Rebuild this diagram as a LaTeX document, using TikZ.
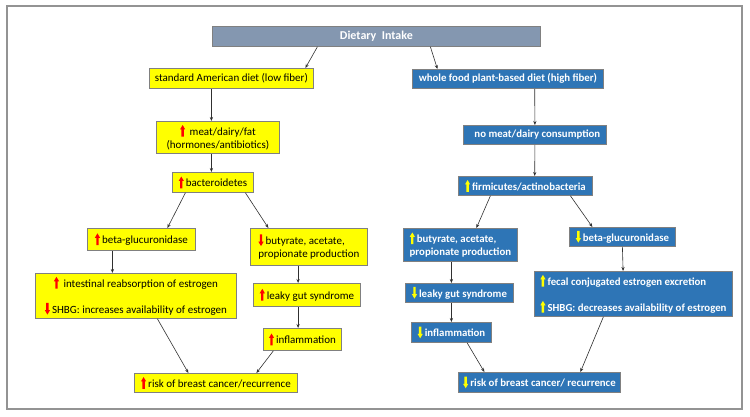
\documentclass[tikz,border=0pt]{standalone}
\usepackage{fontspec}
\setmainfont{Carlito}
\usetikzlibrary{arrows.meta}
\definecolor{yfill}{HTML}{FFFF00}
\definecolor{bfill}{HTML}{2E75B6}
\definecolor{dfill}{HTML}{8497B0}
\definecolor{bordr}{HTML}{808080}
\definecolor{linec}{HTML}{303030}
\definecolor{redar}{HTML}{FF0000}
\definecolor{yelar}{HTML}{FFFF00}
\newcommand{\arrU}[1]{\tikz[baseline=0pt,x=1pt,y=1pt]\fill[#1] (-1.2,-1.5) -- (-1.2,5.8) -- (-2.6,5.8) -- (0,10.2) -- (2.6,5.8) -- (1.2,5.8) -- (1.2,-1.5) -- cycle;\hspace{2pt}}
\newcommand{\arrD}[1]{\tikz[baseline=0pt,x=1pt,y=1pt]\fill[#1] (-1.2,10.2) -- (-1.2,2.9) -- (-2.6,2.9) -- (0,-1.5) -- (2.6,2.9) -- (1.2,2.9) -- (1.2,10.2) -- cycle;\hspace{2pt}}
\begin{document}
\begin{tikzpicture}[x=1pt,y=-1pt,
  every node/.style={font=\fontsize{11}{13}\selectfont, inner sep=0pt, anchor=north west},
  ybox/.style={draw=bordr, line width=0.8pt, fill=yfill, text=black, align=center},
  bbox/.style={draw=bordr, line width=0.8pt, fill=bfill, text=white, align=center, font=\fontsize{10.8}{13}\selectfont\bfseries},
  dbox/.style={draw=bordr, line width=0.8pt, fill=dfill, text=white, align=center, font=\fontsize{12}{13}\selectfont\bfseries},
  conn/.style={draw=linec, line width=0.6pt, -{Stealth[length=4pt,width=3.2pt]}}
]
\useasboundingbox (0,0) rectangle (750,417);
\draw[draw=gray!85, line width=1.5pt] (7,6) rectangle (742,409);

% top
\node[dbox, minimum width=328pt, minimum height=20pt] (diet) at (212,26) {Dietary\ \ Intake};

% left column
\node[ybox, minimum width=164pt, minimum height=20pt] (lsad) at (149,68) {standard American diet (low fiber)};
\node[ybox, minimum width=123pt, minimum height=32pt] (lmeat) at (156,121) {\arrU{redar} meat/dairy/fat\\(hormones/antibiotics)};
\node[ybox, minimum width=81pt, minimum height=20pt] (lbact) at (172,172) {\arrU{redar}bacteroidetes};
\node[ybox, minimum width=108pt, minimum height=22pt] (lbeta) at (87,228) {\arrU{redar}beta-glucuronidase};
\node[ybox, minimum width=201pt, minimum height=45pt] (lint) at (35,273) {\arrU{redar} intestinal reabsorption of estrogen\\[13pt]\arrD{redar}SHBG: increases availability of estrogen};
\node[ybox, minimum width=117pt, minimum height=37pt, align=left] (lbut) at (250,228) {\arrD{redar}butyrate, acetate,\\propionate production};
\node[ybox, minimum width=107pt, minimum height=23pt] (lleak) at (253,283) {\arrU{redar}leaky gut syndrome};
\node[ybox, minimum width=78pt, minimum height=22pt] (linf) at (263,328) {\arrU{redar}inflammation};
\node[ybox, minimum width=163pt, minimum height=19pt] (lrisk) at (134,373) {\arrU{redar}risk of breast cancer/recurrence};

% right column
\node[bbox, minimum width=191pt, minimum height=19pt] (rwf) at (412,69) {whole food plant-based diet (high fiber)};
\node[bbox, minimum width=143pt, minimum height=19pt] (rnomeat) at (463,125) {\ \ no meat/dairy consumption};
\node[bbox, minimum width=134pt, minimum height=19pt] (rfirm) at (458,176) {\arrU{yelar}firmicutes/actinobacteria};
\node[bbox, minimum width=114pt, minimum height=33pt, align=left] (rbut) at (403,228) {\arrU{yelar}butyrate, acetate,\\propionate production};
\node[bbox, minimum width=106pt, minimum height=19pt] (rbeta) at (569,227) {\arrD{yelar}beta-glucuronidase};
\node[bbox, minimum width=198pt, minimum height=45pt, align=left] (rfec) at (534,271) {\arrU{yelar}fecal conjugated estrogen excretion\\[13pt]\arrU{yelar}SHBG: decreases availability of estrogen};
\node[bbox, minimum width=108pt, minimum height=19pt] (rleak) at (405,283) {\arrD{yelar}leaky gut syndrome};
\node[bbox, minimum width=80pt, minimum height=20pt] (rinf) at (411,322) {\arrD{yelar}inflammation};
\node[bbox, minimum width=162pt, minimum height=20pt] (rrisk) at (458,372) {\arrD{yelar}risk of breast cancer/ recurrence};

% connectors left
\draw[conn] ([xshift=-59pt]diet.south) -- ([xshift=74pt]lsad.north);
\draw[conn] ([xshift=-20pt]lsad.south) -- ([xshift=-6.5pt]lmeat.north);
\draw[conn] ([xshift=-6.5pt]lmeat.south) -- ([xshift=-1.5pt]lbact.north);
\draw[conn] ([xshift=-27.5pt]lbact.south) -- ([xshift=26pt]lbeta.north);
\draw[conn] ([xshift=32.5pt]lbact.south) -- ([xshift=-40.5pt]lbut.north);
\draw[conn] ([xshift=-29pt]lbeta.south) -- ([xshift=-23.5pt]lint.north);
\draw[conn] ([xshift=-10.8pt]lbut.south) -- ([xshift=-8.8pt]lleak.north);
\draw[conn] ([xshift=-8.8pt]lleak.south) -- ([xshift=-4.3pt]linf.north);
\draw[conn] ([xshift=21.5pt]lint.south) -- ([xshift=-27.5pt]lrisk.north);
\draw[conn] ([xshift=-29pt]linf.south) -- ([xshift=40.5pt]lrisk.north);

% connectors right
\draw[conn] ([xshift=54pt]diet.south) -- ([xshift=-70.5pt]rwf.north);
\draw[conn] ([xshift=26.8pt]rwf.south) -- (rnomeat.north);
\draw[conn] (rnomeat.south) -- ([xshift=9.3pt]rfirm.north);
\draw[conn] ([xshift=-35pt]rfirm.south) -- ([xshift=16pt]rbut.north);
\draw[conn] ([xshift=45pt]rfirm.south) -- ([xshift=-30pt]rbeta.north);
\draw[conn] ([xshift=-9pt]rbut.south) -- ([xshift=-8pt]rleak.north);
\draw[conn] ([xshift=-8pt]rleak.south) -- (rinf.north);
\draw[conn] (rbeta.south) -- ([xshift=-10.3pt]rfec.north);
\draw[conn] ([xshift=15.7pt]rinf.south) -- ([xshift=-55pt]rrisk.north);
\draw[conn] ([xshift=-30pt]rfec.south) -- ([xshift=41pt]rrisk.north);
\end{tikzpicture}
\end{document}
